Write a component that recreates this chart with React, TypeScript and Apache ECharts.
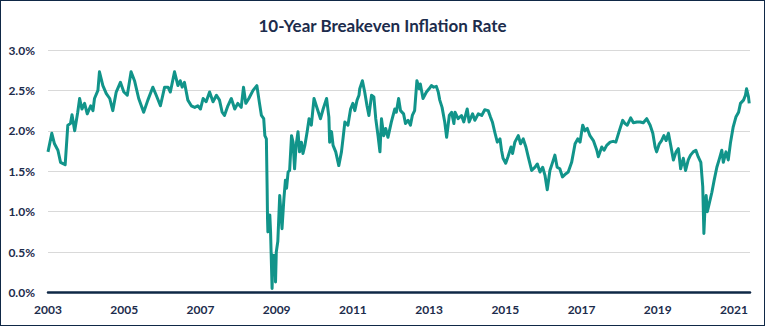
import React, { useEffect, useRef } from "react";
import * as echarts from "echarts";

const TITLE = "10-Year Breakeven Inflation Rate";
const yTicks = [0, 0.5, 1, 1.5, 2, 2.5, 3];
const xStartYear = 2003;
const xEndYear = 2021.42;

const dates2003_2008 = [
  2003.0, 2003.1, 2003.17, 2003.26, 2003.33, 2003.45, 2003.52, 2003.59, 2003.63, 2003.7,
  2003.78, 2003.83, 2003.89, 2003.96, 2004.03, 2004.12, 2004.18, 2004.22, 2004.31, 2004.35,
  2004.44, 2004.53, 2004.62, 2004.7, 2004.79, 2004.9, 2004.99, 2005.08, 2005.18, 2005.27,
  2005.38, 2005.51, 2005.62, 2005.75, 2005.84, 2005.95, 2006.06, 2006.15, 2006.21, 2006.32,
  2006.41, 2006.47, 2006.52, 2006.58, 2006.67, 2006.76, 2006.85, 2006.93, 2007.0, 2007.07,
  2007.15, 2007.24, 2007.33, 2007.42, 2007.5, 2007.57, 2007.63, 2007.72, 2007.81, 2007.9,
  2007.98, 2008.07, 2008.13, 2008.19, 2008.27, 2008.38, 2008.48, 2008.55, 2008.6, 2008.66,
  2008.69, 2008.73,
];
const rates2003_2008 = [
  1.74, 1.97, 1.84, 1.76, 1.61, 1.58, 2.07, 2.09, 2.2, 2.0,
  2.23, 2.4, 2.27, 2.34, 2.21, 2.31, 2.25, 2.4, 2.5, 2.73,
  2.56, 2.46, 2.4, 2.25, 2.48, 2.6, 2.48, 2.44, 2.73, 2.62,
  2.4, 2.23, 2.38, 2.54, 2.44, 2.31, 2.54, 2.54, 2.48, 2.73,
  2.56, 2.62, 2.54, 2.6, 2.38, 2.31, 2.29, 2.31, 2.27, 2.4,
  2.36, 2.48, 2.36, 2.44, 2.38, 2.23, 2.19, 2.31, 2.4, 2.27,
  2.34, 2.29, 2.54, 2.34, 2.4, 2.5, 2.56, 2.34, 2.19, 2.15,
  1.94, 1.9,
];

const dates2008_2013 = [
  2008.75, 2008.76, 2008.77, 2008.82, 2008.84, 2008.88, 2008.9, 2008.93, 2008.96, 2008.97,
  2008.99, 2009.03, 2009.08, 2009.11, 2009.14, 2009.19, 2009.23, 2009.26, 2009.3, 2009.34,
  2009.39, 2009.43, 2009.47, 2009.51, 2009.56, 2009.6, 2009.65, 2009.69, 2009.74, 2009.8,
  2009.85, 2009.91, 2009.98, 2010.04, 2010.15, 2010.22, 2010.31, 2010.37, 2010.39, 2010.44,
  2010.48, 2010.55, 2010.63, 2010.7, 2010.74, 2010.79, 2010.87, 2010.94, 2011.0, 2011.05,
  2011.11, 2011.16, 2011.18, 2011.25, 2011.31, 2011.37, 2011.42, 2011.49, 2011.55, 2011.6,
  2011.66, 2011.71, 2011.75, 2011.81, 2011.86, 2011.92, 2012.01, 2012.1, 2012.14, 2012.2,
  2012.25, 2012.33, 2012.38, 2012.45, 2012.51, 2012.56, 2012.62, 2012.68, 2012.74, 2012.77,
  2012.84, 2012.93, 2013.0, 2013.06, 2013.12, 2013.19, 2013.24, 2013.28, 2013.34, 2013.41,
  2013.46, 2013.53, 2013.59, 2013.65,
];
const rates2008_2013 = [
  1.29, 0.92, 0.75, 0.96, 0.75, 0.05, 0.46, 0.22, 0.46, 0.13,
  0.5, 0.63, 1.2, 1.0, 0.79, 1.16, 1.39, 1.29, 1.49, 1.51,
  1.94, 1.86, 1.53, 1.82, 1.99, 1.74, 1.86, 1.72, 1.82, 1.99,
  2.15, 2.07, 2.4, 2.31, 2.15, 2.27, 2.4, 2.17, 1.86, 1.99,
  1.82, 1.74, 1.57, 1.74, 1.9, 2.11, 2.07, 2.27, 2.34, 2.25,
  2.38, 2.44, 2.52, 2.62, 2.48, 2.31, 2.19, 2.44, 2.42, 2.15,
  1.94, 1.74, 2.15, 1.94, 2.03, 1.92, 2.11, 2.27, 2.23, 2.4,
  2.25, 2.21, 2.09, 2.13, 2.07, 2.19, 2.25, 2.62, 2.52, 2.58,
  2.4, 2.48, 2.52, 2.56, 2.54, 2.55, 2.48, 2.38, 2.29, 2.11,
  1.92, 2.19, 2.23, 2.09,
];

const dates2013_2017 = [
  2013.68, 2013.76, 2013.85, 2013.91, 2014.0, 2014.05, 2014.14, 2014.2, 2014.29, 2014.38,
  2014.46, 2014.55, 2014.61, 2014.66, 2014.73, 2014.79, 2014.86, 2014.9, 2014.94, 2015.01,
  2015.07, 2015.15, 2015.19, 2015.25, 2015.34, 2015.4, 2015.47, 2015.54, 2015.6, 2015.69,
  2015.78, 2015.84, 2015.91, 2015.98, 2016.04, 2016.1, 2016.17, 2016.24, 2016.3, 2016.36,
  2016.43, 2016.5, 2016.59, 2016.65, 2016.74, 2016.83, 2016.9, 2016.96,
];
const rates2013_2017 = [
  2.23, 2.15, 2.19, 2.11, 2.27, 2.11, 2.21, 2.13, 2.21, 2.19,
  2.26, 2.25, 2.17, 2.11, 1.97, 1.86, 1.9, 1.76, 1.66, 1.6,
  1.68, 1.8, 1.72, 1.86, 1.94, 1.84, 1.9, 1.8, 1.68, 1.51,
  1.55, 1.59, 1.49, 1.55, 1.45, 1.27, 1.51, 1.61, 1.7, 1.55,
  1.53, 1.43, 1.47, 1.49, 1.61, 1.84, 1.9, 1.86,
];

const dates2017_2021 = [
  2017.03, 2017.09, 2017.15, 2017.22, 2017.31, 2017.4, 2017.44, 2017.53, 2017.59, 2017.66,
  2017.75, 2017.83, 2017.9, 2017.99, 2018.08, 2018.14, 2018.2, 2018.29, 2018.36, 2018.45,
  2018.54, 2018.62, 2018.71, 2018.8, 2018.87, 2018.93, 2018.97, 2019.04, 2019.1, 2019.16,
  2019.22, 2019.28, 2019.34, 2019.41, 2019.48, 2019.54, 2019.6, 2019.67, 2019.73, 2019.8,
  2019.86, 2019.93, 2020.0, 2020.06, 2020.13, 2020.18, 2020.21, 2020.24, 2020.27, 2020.3,
  2020.35, 2020.42, 2020.48, 2020.55, 2020.62, 2020.68, 2020.72, 2020.79, 2020.85, 2020.91,
  2020.98, 2021.05, 2021.12, 2021.17, 2021.25, 2021.3, 2021.33, 2021.38, 2021.4,
];
const rates2017_2021 = [
  2.07, 2.0, 2.03, 1.94, 1.88, 1.76, 1.68, 1.8, 1.76, 1.82,
  1.86, 1.87, 1.86, 2.0, 2.13, 2.09, 2.07, 2.16, 2.1, 2.11,
  2.11, 2.1, 2.15, 2.07, 1.97, 1.8, 1.74, 1.84, 1.88, 1.94,
  1.88, 1.97, 1.82, 1.64, 1.74, 1.78, 1.53, 1.66, 1.51, 1.64,
  1.7, 1.74, 1.76, 1.68, 1.61, 1.31, 0.73, 1.06, 1.2, 1.0,
  1.1, 1.24, 1.39, 1.55, 1.66, 1.76, 1.61, 1.74, 1.64, 1.86,
  2.05, 2.17, 2.23, 2.34, 2.38, 2.44, 2.52, 2.42, 2.34,
];

const NAVY = "#0f2846";
const TEXT = "#1c2c4c";
const TEAL = "#11948a";

export default function App() {
  const ref = useRef<HTMLDivElement>(null);
  useEffect(() => {
    if (!ref.current) return;
    const chart = echarts.init(ref.current, undefined, { renderer: "svg" });
    const dates = [...dates2003_2008, ...dates2008_2013, ...dates2013_2017, ...dates2017_2021];
    const rates = [...rates2003_2008, ...rates2008_2013, ...rates2013_2017, ...rates2017_2021];
    const data = dates.map((d, i) => [d, rates[i]]);
    chart.setOption({
      animation: false,
      title: {
        text: TITLE,
        left: "center",
        top: 12,
        textStyle: { fontFamily: "Lato", fontWeight: "bold", fontSize: 17, color: TEXT },
      },
      grid: { left: 48, right: 15, top: 50, bottom: 33.5, containLabel: false },
      xAxis: {
        type: "value",
        min: xStartYear,
        max: xEndYear,
        interval: 2,
        splitLine: { show: false },
        axisTick: { show: false },
        axisLine: { show: true, lineStyle: { color: NAVY, width: 2.5 } },
        axisLabel: {
          margin: 11,
          showMaxLabel: false,
          color: TEXT,
          fontFamily: "Lato",
          fontWeight: "bold",
          fontSize: 12,
          formatter: (v: number) =>
            Math.abs((v - xStartYear) % 2) < 1e-6 ? String(Math.round(v)) : "",
        },
      },
      yAxis: {
        type: "value",
        min: yTicks[0],
        max: yTicks[yTicks.length - 1],
        interval: 0.5,
        axisLine: { show: false },
        axisTick: { show: false },
        splitLine: { lineStyle: { color: "#d9d9d9", width: 1 } },
        axisLabel: {
          margin: 13,
          color: TEXT,
          fontFamily: "Lato",
          fontWeight: "bold",
          fontSize: 12,
          formatter: (v: number) => v.toFixed(1) + "%",
        },
      },
      series: [
        {
          type: "line",
          data,
          showSymbol: false,
          symbol: "none",
          lineStyle: { color: TEAL, width: 3, join: "round" },
          z: 3,
        },
      ],
    });
    return () => chart.dispose();
  }, []);
  return (
    <div
      style={{
        position: "absolute",
        left: 0,
        top: 0,
        width: 765,
        height: 326,
        boxSizing: "border-box",
        border: `1.5px solid ${NAVY}`,
        background: "#fff",
      }}
    >
      <div ref={ref} style={{ position: "absolute", left: -1.5, top: -1.5, width: 765, height: 326 }} />
    </div>
  );
}
